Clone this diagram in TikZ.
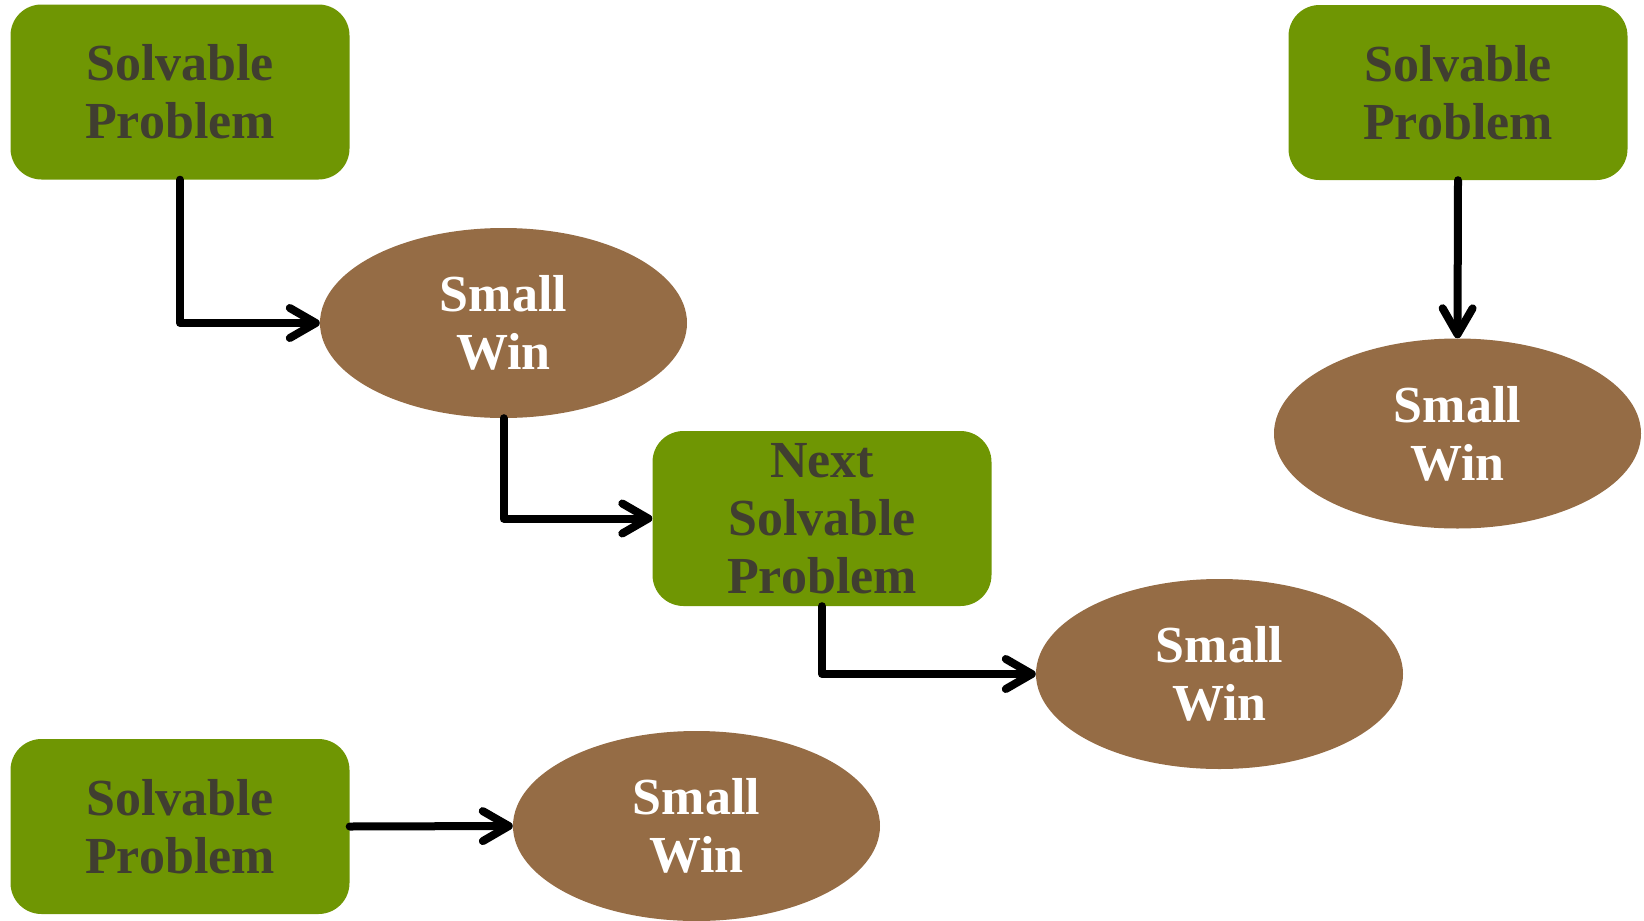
\documentclass[tikz,border=0pt]{standalone}
\usepackage{fontspec}
\setmainfont{Liberation Serif}
\usetikzlibrary{shapes.geometric,arrows.meta}
\definecolor{boxgreen}{RGB}{111,150,3}
\definecolor{winbrown}{RGB}{149,108,69}
\definecolor{boxtext}{RGB}{64,62,48}
\tikzset{
  probbox/.style={draw=none, fill=boxgreen, rounded corners=31pt, minimum width=339pt, minimum height=175pt, inner sep=0pt, align=center, text=boxtext, font=\bfseries\fontsize{52}{58}\selectfont},
  winoval/.style={ellipse, draw=none, fill=winbrown, minimum width=367pt, minimum height=190pt, inner sep=0pt, align=center, text=white, font=\bfseries\fontsize{52}{58}\selectfont},
  link/.style={line width=8pt, line cap=round, line join=round, -{Straight Barb[length=26pt, width=30pt, round, line width=8pt]}}
}
\begin{document}
\begin{tikzpicture}[x=1pt,y=-1pt]
\useasboundingbox (0,0) rectangle (1644,921);
\node[probbox] (p1) at (180,92) {Solvable\\Problem};
\node[probbox] (p2) at (1458,92.5) {Solvable\\Problem};
\node[probbox] (p3) at (180,826.5) {Solvable\\Problem};
\node[probbox] (p4) at (822,518.5) {Next\\Solvable\\Problem};
\node[winoval] (w1) at (503.5,323) {Small\\Win};
\node[winoval] (w2) at (1457.5,433.5) {Small\\Win};
\node[winoval] (w3) at (1219.5,674) {Small\\Win};
\node[winoval] (w4) at (696.5,826) {Small\\Win};
\draw[link] (p1.south) |- (w1.west);
\draw[link] (w1.south) |- (p4.west);
\draw[link] (p4.south) |- (w3.west);
\draw[link] (p2.south) -- (w2.north);
\draw[link] (p3.east) -- (w4.west);
\end{tikzpicture}
\end{document}
